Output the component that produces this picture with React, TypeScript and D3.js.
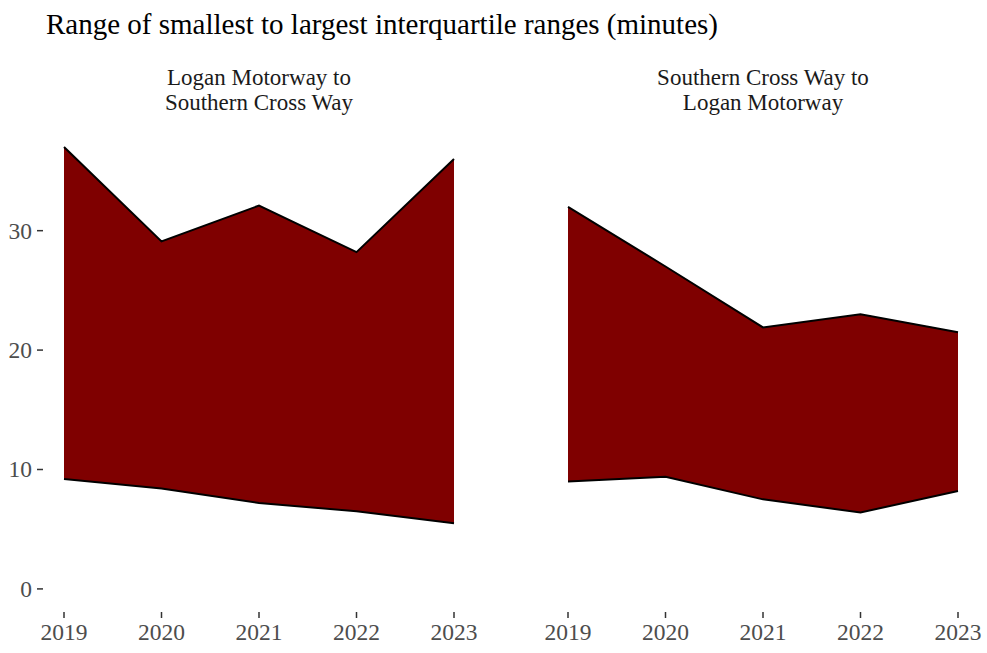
import React from "react";
import * as d3 from "d3";

const years = [2019, 2020, 2021, 2022, 2023];
const panelTitles = [
  ["Logan Motorway to", "Southern Cross Way"],
  ["Southern Cross Way to", "Logan Motorway"],
];
const panel1Low = [9.2, 8.4, 7.2, 6.5, 5.5];
const panel1High = [37.0, 29.1, 32.1, 28.2, 36.0];
const panel2Low = [9.0, 9.4, 7.5, 6.4, 8.2];
const panel2High = [32.0, 27.0, 21.9, 23.0, 21.5];
const yTicks = [0, 10, 20, 30];
const title = "Range of smallest to largest interquartile ranges (minutes)";

const W = 987;
const H = 653;
const FONT = "'Liberation Serif', 'Times New Roman', serif";

export default function App() {
  const y = d3.scaleLinear().domain([-1.85, 38.85]).range([611, 125]);
  const panels = [
    { x0: 44.5, x1: 473.5, low: panel1Low, high: panel1High, titles: panelTitles[0] },
    { x0: 548.5, x1: 977.5, low: panel2Low, high: panel2High, titles: panelTitles[1] },
  ];
  return (
    <svg width={W} height={H} style={{ position: "absolute", left: 0, top: 0, background: "#fff" }}>
      <text x={46} y={34} fontFamily={FONT} fontSize={29} fill="#000" textLength={672} lengthAdjust="spacingAndGlyphs">{title}</text>
      {yTicks.map((t) => (
        <g key={t}>
          <line x1={37} x2={43} y1={y(t)} y2={y(t)} stroke="#333" strokeWidth={1.5} />
          <text x={32} y={y(t) + 8} textAnchor="end" fontFamily={FONT} fontSize={23.5} fill="#4d4d4d">{t}</text>
        </g>
      ))}
      {panels.map((p, i) => {
        const x = d3.scaleLinear().domain([2018.8, 2023.2]).range([p.x0, p.x1]);
        const rows = years.map((yr, k) => ({ yr, lo: p.low[k], hi: p.high[k] }));
        const area = d3.area<any>().x((d) => x(d.yr)).y0((d) => y(d.lo)).y1((d) => y(d.hi));
        const lineHi = d3.line<any>().x((d) => x(d.yr)).y((d) => y(d.hi));
        const lineLo = d3.line<any>().x((d) => x(d.yr)).y((d) => y(d.lo));
        const cx = (p.x0 + p.x1) / 2;
        return (
          <g key={i}>
            <text x={cx} y={85} textAnchor="middle" fontFamily={FONT} fontSize={23} fill="#1a1a1a">{p.titles[0]}</text>
            <text x={cx} y={110} textAnchor="middle" fontFamily={FONT} fontSize={23} fill="#1a1a1a">{p.titles[1]}</text>
            <path d={area(rows) || ""} fill="#7f0000" />
            <path d={lineHi(rows) || ""} fill="none" stroke="#000" strokeWidth={2} />
            <path d={lineLo(rows) || ""} fill="none" stroke="#000" strokeWidth={2} />
            {years.map((yr) => (
              <g key={yr}>
                <line x1={x(yr)} x2={x(yr)} y1={612} y2={618} stroke="#333" strokeWidth={1.5} />
                <text x={x(yr)} y={640} textAnchor="middle" fontFamily={FONT} fontSize={23.5} fill="#4d4d4d">{yr}</text>
              </g>
            ))}
          </g>
        );
      })}
    </svg>
  );
}
